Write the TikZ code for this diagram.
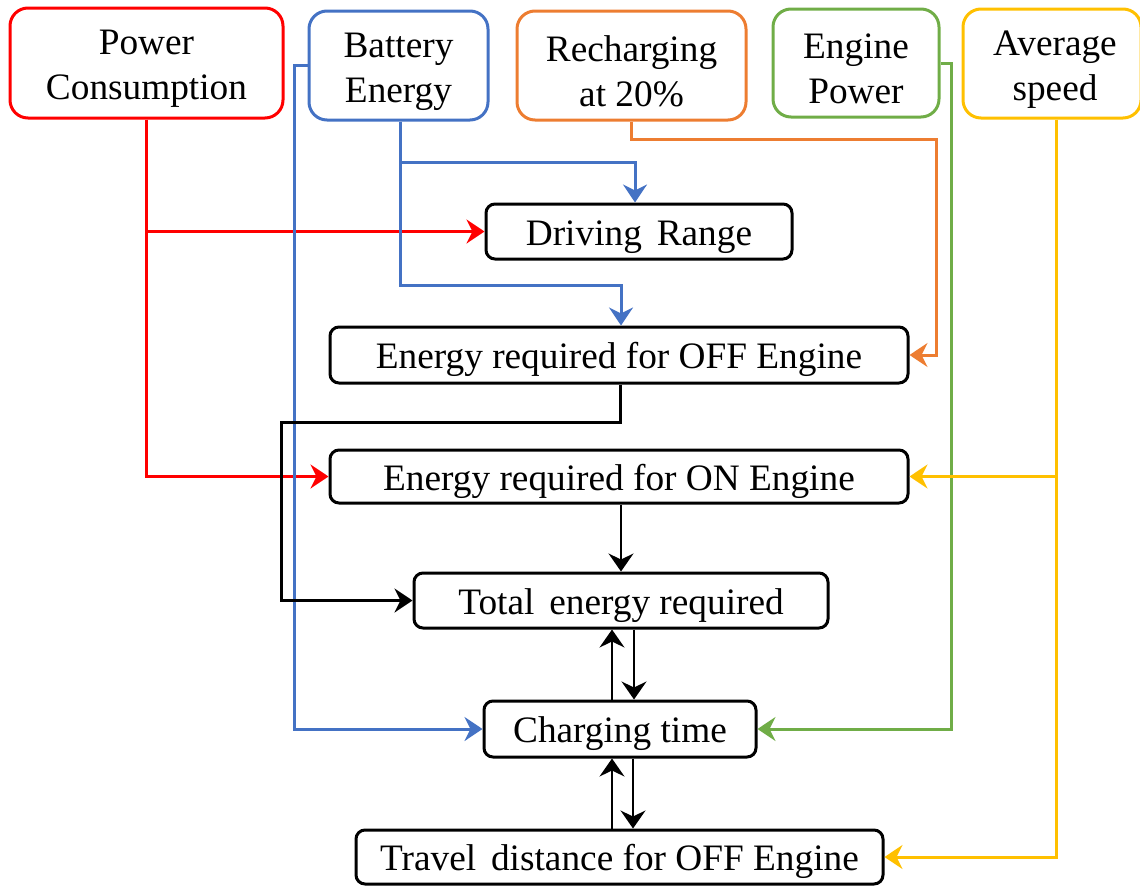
\documentclass[tikz,border=0pt]{standalone}
\usepackage{fontspec}
\setmainfont{Liberation Serif}
\usetikzlibrary{arrows.meta}
\definecolor{cred}{HTML}{FF0000}
\definecolor{cblue}{HTML}{4472C4}
\definecolor{corange}{HTML}{ED7D31}
\definecolor{cgreen}{HTML}{70AD47}
\definecolor{cyellow}{HTML}{FFC000}
\tikzset{
  topbox/.style={draw, line width=3pt, rounded corners=18pt, inner sep=0pt},
  toptext/.style={inner sep=0pt, align=center, font=\fontsize{37.3}{45}\selectfont},
  midbox/.style={draw=black, line width=3pt, rounded corners=9pt, inner sep=0pt, align=center, text height=27pt, text depth=0pt, font=\fontsize{37.3}{44}\selectfont},
  conn/.style={line width=3pt, -{Stealth[length=18pt,width=24pt,inset=6pt]}},
  thinconn/.style={line width=1.4pt, -{Stealth[length=18pt,width=25pt,inset=6pt]}},
}
\begin{document}
\begin{tikzpicture}[x=1pt,y=-1pt]
\useasboundingbox (0,0) rectangle (1140,886);
% top boxes
\node[topbox, draw=cred, minimum width=273pt, minimum height=110pt] (pc) at (146.5,63) {};
\node[topbox, draw=cblue, minimum width=179pt, minimum height=109pt] (be) at (398.5,65.5) {};
\node[topbox, draw=corange, minimum width=229pt, minimum height=109pt] (rc) at (631.5,65.5) {};
\node[topbox, draw=cgreen, minimum width=166pt, minimum height=108pt] (ep) at (856,63) {};
\node[topbox, draw=cyellow, minimum width=178pt, minimum height=109pt] (as) at (1052,63.5) {};
\node[toptext] (pct) at ([yshift=-6pt]pc.center) {Power\\Consumption};
\node[toptext] (bet) at ([yshift=-6pt]be.center) {Battery\\Energy};
\node[toptext] (rct) at ([yshift=-6pt]rc.center) {Recharging\\at 20\%};
\node[toptext] (ept) at ([yshift=-6pt]ep.center) {Engine\\Power};
\node[toptext] (ast) at ([yshift=-6pt,xshift=3pt]as.center) {Average\\speed};
% middle boxes
\node[midbox, minimum width=306pt, minimum height=55pt] (dr) at (639,231.5) {Driving\hspace{0.15em} Range};
\node[midbox, minimum width=578pt, minimum height=56pt] (off) at (619,355) {Energy required for OFF Engine};
\node[midbox, minimum width=578pt, minimum height=53pt] (on) at (619,476.5) {Energy required for ON Engine};
\node[midbox, minimum width=414pt, minimum height=55pt] (tot) at (621,600.5) {Total\hspace{0.15em} energy required};
\node[midbox, minimum width=272pt, minimum height=56pt] (ct) at (620,729) {Charging time};
\node[midbox, minimum width=527pt, minimum height=54pt] (tr) at (619.5,857) {Travel\hspace{0.15em} distance for OFF Engine};
% helper coordinates
\coordinate (bl1) at (294,65.5);
\coordinate (bb1) at (400,162);
\coordinate (bb2) at (400,285);
\coordinate (oc) at (936,139);
\coordinate (gc) at (951,63);
\coordinate (kc) at (281,422);
% red
\draw[conn, cred] (pc.south) |- (dr.west);
\draw[conn, cred] (pc.south) |- (on.west);
% blue
\draw[conn, cblue] (be.west) -- (bl1) |- (ct.west);
\draw[conn, cblue] (be.south -| bb1) -- (bb1) -| ([xshift=-4pt]dr.north);
\draw[conn, cblue] (be.south -| bb2) -- (bb2) -| ([xshift=2pt]off.north);
% orange
\draw[conn, corange] (rc.south) |- (oc) |- (off.east);
% green
\draw[conn, cgreen] (ep.east) -- (gc) |- (ct.east);
% yellow
\draw[conn, cyellow] ([xshift=4pt]as.south) |- (on.east);
\draw[conn, cyellow] ([xshift=4pt]as.south) |- (tr.east);
% black
\draw[conn, black] ([xshift=1pt]off.south) |- (kc) |- (tot.west);
\draw[thinconn] ([xshift=2pt]on.south) -- ([xshift=2pt]on.south |- tot.north);
\draw[thinconn] ([xshift=-8pt]ct.north) -- ([xshift=-8pt]ct.north |- tot.south);
\draw[thinconn] ([xshift=14pt]tot.south -| ct.north) -- ([xshift=14pt]ct.north);
\draw[thinconn] ([xshift=-8pt]tr.north -| ct.south) -- ([xshift=-8pt]ct.south);
\draw[thinconn] ([xshift=13pt]ct.south) -- ([xshift=13pt]ct.south |- tr.north);
\end{tikzpicture}
\end{document}
